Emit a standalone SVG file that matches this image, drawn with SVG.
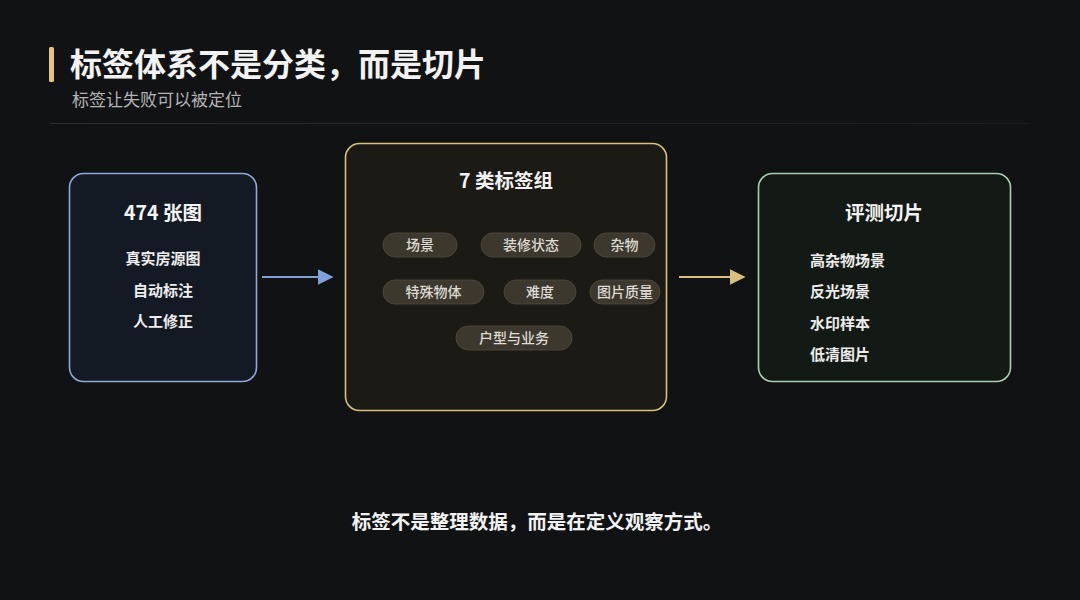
<svg xmlns="http://www.w3.org/2000/svg" width="1080" height="600" viewBox="0 0 1080 600">
<defs>
<style>
text{font-family:"Noto Sans CJK SC","Noto Sans",sans-serif;}
.t{fill:#f2f2f2;font-weight:700;}
.item{fill:#ececec;font-size:15px;font-weight:700;}
.pill rect{fill:#3c382e;stroke:#4a4639;stroke-width:1;}
.pill text{fill:#dedbd2;font-size:14px;font-weight:500;text-anchor:middle;}
</style>
<marker id="ab" viewBox="0 0 10 10" refX="9" refY="5" markerWidth="16" markerHeight="16" markerUnits="userSpaceOnUse" orient="auto"><path d="M0,0 L10,5 L0,10 z" fill="#7fa0d8"/></marker>
<marker id="ag" viewBox="0 0 10 10" refX="9" refY="5" markerWidth="16" markerHeight="16" markerUnits="userSpaceOnUse" orient="auto"><path d="M0,0 L10,5 L0,10 z" fill="#d9c07c"/></marker>
<linearGradient id="div" x1="0" x2="1"><stop offset="0" stop-color="#2c2c2e"/><stop offset="1" stop-color="#1e1e20"/></linearGradient>
</defs>
<rect width="1080" height="600" fill="#111214"/>
<g id="header">
<rect x="49" y="47" width="5" height="35" rx="1.5" fill="#e8c37e"/>
<text x="70" y="76" class="t" font-size="32">标签体系不是分类，而是切片</text>
<text x="72" y="106" font-size="17" fill="#b4b4b4">标签让失败可以被定位</text>
<rect x="50" y="123" width="980" height="1" fill="url(#div)"/>
</g>
<g id="connectors">
<line x1="262" y1="277" x2="332" y2="277" stroke="#7fa0d8" stroke-width="2" marker-end="url(#ab)"/>
<line x1="679" y1="277" x2="744" y2="277" stroke="#d9c07c" stroke-width="2" marker-end="url(#ag)"/>
</g>
<g id="source">
<rect x="69.5" y="173.5" width="187" height="208" rx="14" fill="#141a24" stroke="#8fa8d8" stroke-width="1.6"/>
<text x="163" y="220" class="t" font-size="19.5" text-anchor="middle">474 张图</text>
<text x="163" y="264" class="item" text-anchor="middle">真实房源图</text>
<text x="163" y="296" class="item" text-anchor="middle">自动标注</text>
<text x="163" y="327" class="item" text-anchor="middle">人工修正</text>
</g>
<g id="tags">
<rect x="345.5" y="143.5" width="321" height="267" rx="14" fill="#1b1a15" stroke="#d9c07c" stroke-width="1.6"/>
<text x="506" y="188" class="t" font-size="19.5" text-anchor="middle">7 类标签组</text>
<g class="pill"><rect x="383" y="233" width="74" height="24" rx="12"/><text x="420" y="250">场景</text></g>
<g class="pill"><rect x="481" y="233" width="100" height="24" rx="12"/><text x="531" y="250">装修状态</text></g>
<g class="pill"><rect x="594" y="233" width="61" height="24" rx="12"/><text x="624.5" y="250">杂物</text></g>
<g class="pill"><rect x="383" y="280" width="101" height="24" rx="12"/><text x="433.5" y="297">特殊物体</text></g>
<g class="pill"><rect x="504" y="280" width="72" height="24" rx="12"/><text x="540" y="297">难度</text></g>
<g class="pill"><rect x="590" y="280" width="70" height="24" rx="12"/><text x="625" y="297">图片质量</text></g>
<g class="pill"><rect x="456" y="326" width="116" height="24" rx="12"/><text x="514" y="343">户型与业务</text></g>
</g>
<g id="slices">
<rect x="758.5" y="173.5" width="252" height="208" rx="14" fill="#131a15" stroke="#a9cfb2" stroke-width="1.6"/>
<text x="884" y="220" class="t" font-size="19.5" text-anchor="middle">评测切片</text>
<text x="810" y="266" class="item">高杂物场景</text>
<text x="810" y="297" class="item">反光场景</text>
<text x="810" y="329" class="item">水印样本</text>
<text x="810" y="360" class="item">低清图片</text>
</g>
<g id="footer">
<text x="537" y="529" class="t" font-size="19.5" text-anchor="middle">标签不是整理数据，而是在定义观察方式。</text>
</g>
</svg>
